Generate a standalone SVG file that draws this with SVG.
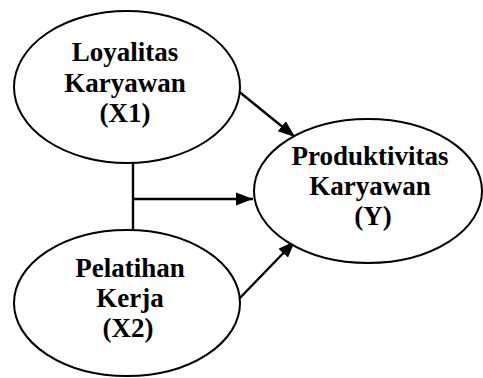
<svg xmlns="http://www.w3.org/2000/svg" width="483" height="378" viewBox="0 0 483 378">
  <style>
    .node ellipse { fill: #ffffff; stroke: #000000; stroke-width: 2; }
    .node text { font-family: "Liberation Serif", "Times New Roman", serif; font-weight: bold; font-size: 27px; fill: #000000; text-anchor: middle; }
    .conn line { stroke: #000000; stroke-width: 2.4; fill: none; }
  </style>
  <defs>
    <marker id="arrow" markerUnits="userSpaceOnUse" markerWidth="18" markerHeight="16" refX="17" refY="8" orient="auto">
      <path d="M0,1.5 L17,8 L0,14.5 z" fill="#000000"/>
    </marker>
  </defs>
  <rect width="483" height="378" fill="#ffffff"/>
  <g id="connectors" class="conn">
    <line x1="237" y1="90" x2="295" y2="137" marker-end="url(#arrow)"/>
    <line x1="133" y1="163" x2="133" y2="229"/>
    <line x1="133" y1="199" x2="253" y2="199" marker-end="url(#arrow)"/>
    <line x1="237" y1="301" x2="295" y2="241" marker-end="url(#arrow)"/>
  </g>
  <g id="node-x1" class="node">
    <ellipse cx="127" cy="87" rx="113" ry="76"/>
    <text x="125" y="61">Loyalitas</text>
    <text x="125" y="92">Karyawan</text>
    <text x="125" y="122">(X1)</text>
  </g>
  <g id="node-x2" class="node">
    <ellipse cx="127" cy="303" rx="113" ry="73"/>
    <text x="130" y="277">Pelatihan</text>
    <text x="130" y="307">Kerja</text>
    <text x="128" y="337">(X2)</text>
  </g>
  <g id="node-y" class="node">
    <ellipse cx="368" cy="191" rx="114" ry="72"/>
    <text x="370" y="165">Produktivitas</text>
    <text x="370" y="195">Karyawan</text>
    <text x="373" y="225">(Y)</text>
  </g>
</svg>
